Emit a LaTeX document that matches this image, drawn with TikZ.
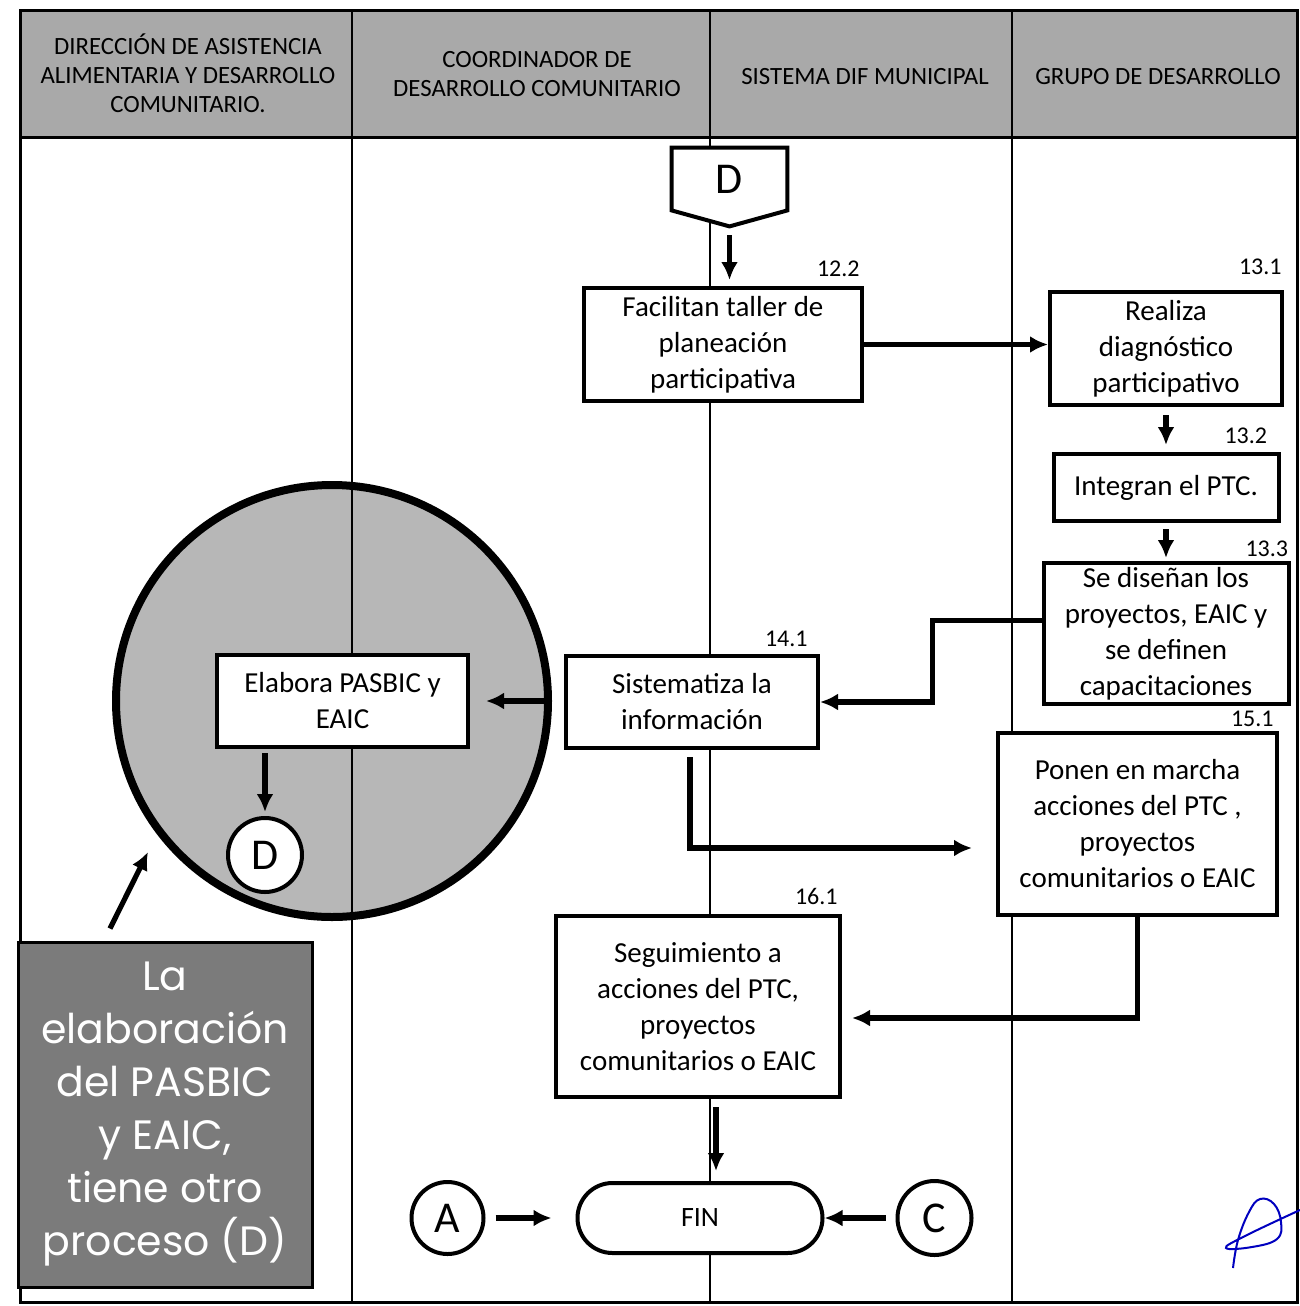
\documentclass[tikz,border=0pt]{standalone}
\usepackage{fontspec}
\setmainfont{Carlito}
\newfontfamily\notefont{Poppins}
\usepackage{xcolor}
\usetikzlibrary{shapes.geometric, arrows, arrows.meta, positioning}

\definecolor{headgray}{HTML}{A9A9A9}
\definecolor{circgray}{HTML}{B7B7B7}
\definecolor{notegray}{HTML}{7B7B7B}

\begin{document}
\begin{tikzpicture}[x=0.5pt, y=-0.5pt, node distance=20pt, auto]
        \tikzstyle{box} = [rectangle, draw, line width=2pt, fill=white, align=center, inner sep=2pt, font=\fontsize{14.5}{18}\selectfont]
        \tikzstyle{line} = [draw, -{Latex[length=9pt, width=8.5pt]}, line width=2.6pt]
        \tikzstyle{conn} = [circle, draw, line width=2pt, fill=white, minimum size=36pt, inner sep=0pt, font=\fontsize{22}{22}\selectfont]
        \tikzstyle{lane} = [draw, line width=1pt]
        \tikzstyle{num} = [inner sep=0pt, font=\fontsize{12}{12}\selectfont]
        \tikzstyle{head} = [align=center, font=\fontsize{12.4}{14.5}\selectfont]
        \tikzstyle{note} = [rectangle, draw, line width=1.5pt, fill=notegray, text=white, align=center, minimum width=147pt, minimum height=172.5pt, font=\notefont\fontsize{20.5}{26.5}\selectfont]

        \useasboundingbox (0,0) rectangle (1300,1306);
        \fill [white] (0,0) rectangle (1300,1306);
        \fill [headgray] (20,10) rectangle (1297,137);

        % circulo de zoom, debajo de los carriles
        \node [circle, draw, line width=4pt, fill=circgray, minimum size=216pt, inner sep=0pt] (zoomc) at (332,701) {};

        % carriles
        \draw [line width=1.5pt] (20,10) rectangle (1297,1302);
        \draw [line width=1.5pt] (20,137) -- (1297,137);
        \path [lane] (352,10) -- (352,1302);
        \path [lane] (710,10) -- (710,1302);
        \path [lane] (1012,10) -- (1012,1302);

        \node [head] (h1) at (188,73) {DIRECCIÓN DE ASISTENCIA\\ALIMENTARIA Y DESARROLLO\\COMUNITARIO.};
        \node [head] (h2) at (537,74) {COORDINADOR DE\\DESARROLLO COMUNITARIO};
        \node [head] (h3) at (865,77) {SISTEMA DIF MUNICIPAL};
        \node [head] (h4) at (1158,77) {GRUPO DE DESARROLLO};

        % conector fuera de pagina
        \node [minimum width=57.5pt, minimum height=31pt, inner sep=0pt] (dconn) at (729.5,179) {};
        \coordinate (dtip) at ([yshift=-8pt]dconn.south);
        \draw [line width=2pt, fill=white] (dconn.north west) -- (dconn.north east) -- (dconn.south east) -- (dtip) -- (dconn.south west) -- cycle;
        \node [inner sep=0pt, font=\fontsize{22}{22}\selectfont] (dlabel) at (dconn) {D};

        \node [box, minimum width=139pt, minimum height=56.5pt] (fac) at (723,344.5) {Facilitan taller de\\planeación\\participativa};
        \node [box, minimum width=116pt, minimum height=56.5pt] (real) at (1166,348.5) {Realiza\\diagnóstico\\participativo};
        \node [box, minimum width=112.5pt, minimum height=33.5pt, below=22.5pt of real] (integ) {Integran el PTC.};
        \node [box, minimum width=122.5pt, minimum height=70.5pt, below=19pt of integ] (disen) {Se diseñan los\\proyectos, EAIC y\\se definen\\capacitaciones};
        \node [box, minimum width=126pt, minimum height=46pt] (sist) at (692,702) {Sistematiza la\\información};
        \node [box, minimum width=125.5pt, minimum height=46pt] (elab) at (342.5,701) {Elabora PASBIC y\\EAIC};
        \node [conn, minimum size=37pt] (cD) at (265,855) {D};
        \node [box, minimum width=139.5pt, minimum height=91pt] (ponen) at (1137.5,824) {Ponen en marcha\\acciones del PTC ,\\proyectos\\comunitarios o EAIC};
        \node [box, minimum width=142pt, minimum height=90.5pt] (segu) at (698,1006.5) {Seguimiento a\\acciones del PTC,\\proyectos\\comunitarios o EAIC};
        \node [box, rounded corners=17.5pt, minimum width=122.5pt, minimum height=35pt, font=\fontsize{14}{14}\selectfont] (fin) at (700,1218) {FIN};
        \node [conn, left=45pt of fin] (cA) {A};
        \node [conn, minimum size=37pt, right=35.5pt of fin] (cC) {C};
        \node [note] (nota) at (165,1114.5) {La\\elaboración\\del PASBIC\\y EAIC,\\tiene otro\\proceso (D)};

        % numeros de actividad
        \node [num, above left=4.5pt and 2pt of fac.north east] (n122) {12.2};
        \node [num, above left=7.5pt and 1pt of real.north east] (n131) {13.1};
        \node [num, above left=4pt and 6.5pt of integ.north east] (n132) {13.2};
        \node [num, above left=2pt and 1pt of disen.north east] (n133) {13.3};
        \node [num, above left=3.5pt and 6pt of sist.north east] (n141) {14.1};
        \node [num, above left=2pt and 2.5pt of ponen.north east] (n151) {15.1};
        \node [num, above left=4.5pt and 2pt of segu.north east] (n161) {16.1};

        \coordinate (ptip) at (972,848);
        \coordinate (stip) at (852,1018);
        \coordinate (ctip) at (148,852);

        \path [line, shorten <=4.5pt, shorten >=3pt] (dtip) -- (dtip |- fac.north);
        \path [line] (fac.east) -- (fac.east -| real.west);
        \path [line, shorten <=4pt, shorten >=3.5pt] (integ.north |- real.south) -- (integ.north);
        \path [line, shorten <=3pt, shorten >=1.5pt] (integ.south) -- (integ.south |- disen.north);
        \path [line] ([yshift=6.5pt]disen.west) -- ++(-109,0) |- (sist.east);
        \path [line, shorten >=8pt] (zoomc.east) -- (zoomc.east -| elab.east);
        \path [line, shorten <=2pt, shorten >=2pt] (cD.north |- elab.south) -- (cD.north);
        \path [line, shorten <=3.5pt] ([xshift=-1pt]sist.south) |- (ptip);
        \path [line] (ponen.south) |- (stip);
        \path [line, shorten <=4pt, shorten >=5pt] ([xshift=9pt]segu.south) -- ([xshift=9pt]segu.south |- fin.north);
        \path [line, shorten <=5pt, shorten >=12pt] (cA.east) -- (fin.west);
        \path [line, shorten <=5pt] (cC.west) -- (fin.east);
        \path [line] ([xshift=-27.5pt, yshift=6pt]nota.north) -- (ctip);

        % firma
        \draw [blue!75!black, line width=1pt] plot [smooth, tension=0.7] coordinates {(1233,1268) (1238,1240) (1249,1212) (1260,1199) (1274,1204) (1281,1222) (1277,1239) (1252,1247) (1226,1248) (1245,1236) (1300,1210)};
    \end{tikzpicture}
\end{document}
